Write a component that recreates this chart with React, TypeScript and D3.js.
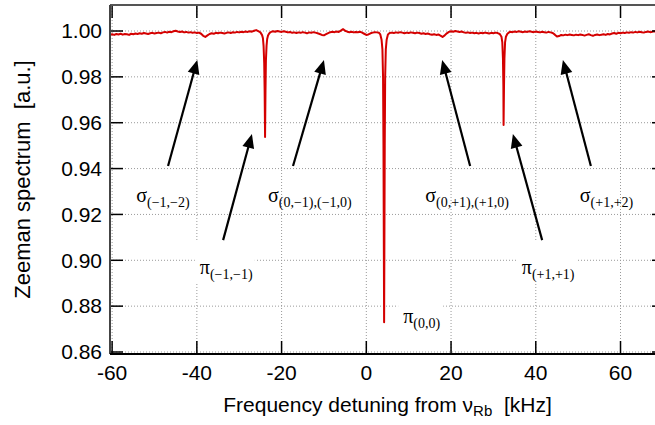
import React from 'react';
import * as d3 from 'd3';

const xTicks = [-60, -40, -20, 0, 20, 40, 60];
const yTicks = [0.86, 0.88, 0.9, 0.92, 0.94, 0.96, 0.98, 1.0];

// [frequency kHz, normalized signal]
const spectrum: [number, number][] = [
  [-60.5, 0.9984], [-60.0, 0.9986], [-59.5, 0.9983], [-59.0, 0.9987], [-58.5, 0.9985], [-58.0, 0.9988],
  [-57.5, 0.9984], [-57.0, 0.9987], [-56.5, 0.9986], [-56.0, 0.9983], [-55.5, 0.9988], [-55.0, 0.9986],
  [-54.5, 0.9989], [-54.0, 0.9987], [-53.5, 0.999], [-53.0, 0.9988], [-52.5, 0.9991], [-52.0, 0.9989],
  [-51.5, 0.9987], [-51.0, 0.999], [-50.5, 0.9992], [-50.0, 0.9989], [-49.5, 0.9991], [-49.0, 0.9993],
  [-48.5, 0.999], [-48.0, 0.9994], [-47.5, 0.9996], [-47.0, 0.9993], [-46.5, 0.9997], [-46.0, 0.9995],
  [-45.5, 0.9999], [-45.0, 1.0001], [-44.5, 0.9998], [-44.0, 0.9996], [-43.5, 0.9998], [-43.0, 0.9994],
  [-42.5, 0.9996], [-42.0, 0.9993], [-41.5, 0.9995], [-41.0, 0.9992], [-40.5, 0.9994], [-40.0, 0.9991],
  [-39.5, 0.9993], [-39.0, 0.9988], [-38.5, 0.9979], [-38.0, 0.9974], [-37.5, 0.9981], [-37.0, 0.9987],
  [-36.5, 0.999], [-36.0, 0.9988], [-35.5, 0.9992], [-35.0, 0.999], [-34.5, 0.9993], [-34.0, 0.9991],
  [-33.5, 0.9989], [-33.0, 0.9992], [-32.5, 0.9994], [-32.0, 0.9991], [-31.5, 0.9995], [-31.0, 0.9993],
  [-30.5, 0.9996], [-30.0, 0.9994], [-29.5, 0.9997], [-29.0, 0.9995], [-28.5, 0.9998], [-28.0, 0.9996],
  [-27.5, 0.9999], [-27.0, 0.9997], [-26.5, 1.0001], [-26.0, 1.0004], [-25.5, 0.9999], [-25.0, 0.9994],
  [-24.6, 0.9982], [-24.4, 0.9968], [-24.25, 0.9935], [-24.1, 0.986], [-24.0, 0.974], [-23.9, 0.9538],
  [-23.8, 0.974], [-23.7, 0.987], [-23.55, 0.9935], [-23.4, 0.9965], [-23.2, 0.998], [-22.9, 0.999],
  [-22.5, 0.9996], [-22.0, 0.9999], [-21.5, 0.9997], [-21.0, 1.0], [-20.5, 0.9998], [-20.0, 0.9996],
  [-19.5, 0.9999], [-19.0, 0.9997], [-18.5, 0.9994], [-18.0, 0.9996], [-17.5, 0.9992], [-17.0, 0.9994],
  [-16.5, 0.9991], [-16.0, 0.9994], [-15.5, 0.9992], [-15.0, 0.9995], [-14.5, 0.9993], [-14.0, 0.999],
  [-13.5, 0.9994], [-13.0, 0.9992], [-12.5, 0.9995], [-12.0, 0.9993], [-11.5, 0.999], [-11.0, 0.9987],
  [-10.5, 0.9983], [-10.0, 0.9981], [-9.5, 0.9986], [-9.0, 0.9991], [-8.5, 0.9995], [-8.0, 0.9997],
  [-7.5, 0.9995], [-7.0, 0.9998], [-6.5, 0.9996], [-6.0, 1.0002], [-5.5, 1.0008], [-5.0, 1.0001],
  [-4.5, 0.9997], [-4.0, 0.9995], [-3.5, 0.9997], [-3.0, 0.9994], [-2.5, 0.9996], [-2.0, 0.9995],
  [-1.5, 0.9997], [-1.0, 0.9993], [-0.5, 0.9988], [0.0, 0.9983], [0.5, 0.9985], [1.0, 0.999],
  [1.5, 0.9993], [2.0, 0.9995], [2.5, 0.9994], [3.0, 0.9992], [3.3, 0.9985], [3.6, 0.9962],
  [3.8, 0.992], [3.95, 0.98], [4.05, 0.95], [4.2, 0.873], [4.35, 0.95], [4.45, 0.98],
  [4.6, 0.992], [4.8, 0.9962], [5.1, 0.9985], [5.5, 0.9991], [6.0, 0.9993], [6.5, 0.9991],
  [7.0, 0.9994], [7.5, 0.9992], [8.0, 0.9995], [8.5, 0.9993], [9.0, 0.999], [9.5, 0.9993],
  [10.0, 0.9991], [10.5, 0.9994], [11.0, 0.9992], [11.5, 0.999], [12.0, 0.9993], [12.5, 0.9991],
  [13.0, 0.9988], [13.5, 0.999], [14.0, 0.9987], [14.5, 0.9989], [15.0, 0.9986], [15.5, 0.9984],
  [16.0, 0.9986], [16.5, 0.9983], [17.0, 0.9985], [17.5, 0.998], [18.0, 0.9974], [18.5, 0.9981],
  [19.0, 0.999], [19.5, 0.9996], [20.0, 0.9999], [20.5, 0.9997], [21.0, 1.0], [21.5, 0.9998],
  [22.0, 0.9996], [22.5, 0.9998], [23.0, 0.9994], [23.5, 0.9992], [24.0, 0.9994], [24.5, 0.9991],
  [25.0, 0.9993], [25.5, 0.999], [26.0, 0.9992], [26.5, 0.9989], [27.0, 0.9992], [27.5, 0.999],
  [28.0, 0.9993], [28.5, 0.9991], [29.0, 0.9989], [29.5, 0.9992], [30.0, 0.999], [30.5, 0.9993],
  [31.0, 0.9991], [31.5, 0.9987], [31.9, 0.9975], [32.1, 0.995], [32.25, 0.988], [32.35, 0.976],
  [32.4, 0.959], [32.5, 0.976], [32.6, 0.988], [32.75, 0.995], [32.95, 0.9975], [33.3, 0.9988],
  [33.7, 0.9994], [34.0, 0.9997], [34.5, 0.9995], [35.0, 0.9998], [35.5, 0.9996], [36.0, 0.9999],
  [36.5, 0.9997], [37.0, 0.9995], [37.5, 0.9998], [38.0, 0.9996], [38.5, 0.9999], [39.0, 0.9997],
  [39.5, 0.9995], [40.0, 0.9998], [40.5, 0.9996], [41.0, 0.9994], [41.5, 0.9997], [42.0, 0.9995],
  [42.5, 0.9993], [43.0, 0.9996], [43.5, 0.9994], [44.0, 0.9991], [44.5, 0.9984], [45.0, 0.9976],
  [45.5, 0.9978], [46.0, 0.9983], [46.5, 0.9981], [47.0, 0.9984], [47.5, 0.9982], [48.0, 0.9985],
  [48.5, 0.9983], [49.0, 0.9981], [49.5, 0.9984], [50.0, 0.9982], [50.5, 0.9985], [51.0, 0.9983],
  [51.5, 0.998], [52.0, 0.9983], [52.5, 0.9986], [53.0, 0.9982], [53.5, 0.9979], [54.0, 0.9983],
  [54.5, 0.9985], [55.0, 0.9982], [55.5, 0.9984], [56.0, 0.9986], [56.5, 0.9983], [57.0, 0.9987],
  [57.5, 0.9985], [58.0, 0.9989], [58.5, 0.9991], [59.0, 0.9988], [59.5, 0.9992], [60.0, 0.999],
  [60.5, 0.9993], [61.0, 0.9991], [61.5, 0.9994], [62.0, 0.9992], [62.5, 0.9995], [63.0, 0.9993],
  [63.5, 0.9996], [64.0, 0.9994], [64.5, 0.9997], [65.0, 0.9995], [65.5, 0.9993], [66.0, 0.9996],
  [66.5, 0.9998], [67.0, 0.9995], [67.5, 0.9997], [68.0, 0.9999], [68.5, 0.9996], [69.0, 0.9998],
  [69.5, 0.9996], [70.0, 0.9999], [70.5, 0.9997],
];

// annotation arrows: [start kHz, start value, tip kHz, tip value]
const arrows: [number, number, number, number][] = [
  [-46.8, 0.9411, -39.9, 0.9874],
  [-33.8, 0.9088, -27.0, 0.9551],
  [-17.3, 0.9411, -10.0, 0.9874],
  [24.5, 0.9411, 17.9, 0.9874],
  [41.5, 0.9088, 34.6, 0.9551],
  [53.0, 0.9411, 46.4, 0.9874],
];

// annotation labels: symbol, subscript, anchor kHz, baseline value, white box
const labelSymbols = ['σ', 'σ', 'σ', 'σ', 'π', 'π', 'π'];
const labelSubs = ['(−1,−2)', '(0,−1),(−1,0)', '(0,+1),(+1,0)', '(+1,+2)', '(−1,−1)', '(+1,+1)', '(0,0)'];
const labelF = [-54.3, -23.2, 13.9, 50.4, -39.3, 36.7, 8.7];
const labelV = [0.9254, 0.9254, 0.9254, 0.9254, 0.894, 0.894, 0.8727];
const labelBox = [false, false, false, false, true, true, true];

const X0 = 110, X1 = 665, Y0 = 354, Y1 = 5;

export default function App() {
  const x = d3.scaleLinear().domain([-60.5, 70.5]).range([X0, X1]);
  const y = d3.scaleLinear().domain([0.85913, 1.01134]).range([Y0, Y1]);
  const line = d3.line<[number, number]>().x(d => x(d[0])).y(d => y(d[1]));
  const sans = 'Liberation Sans, Arial, sans-serif';
  const serif = 'Liberation Serif, Times New Roman, serif';
  const grid = '#9a9a9a';

  return (
    <svg width={655} height={425} style={{ position: 'absolute', left: 0, top: 0, background: '#fff' }}>
      <defs>
        <clipPath id="plot">
          <rect x={X0} y={Y1} width={X1 - X0} height={Y0 - Y1} />
        </clipPath>
      </defs>
      <rect x={0} y={0} width={655} height={425} fill="#fff" />
      {/* grid */}
      {xTicks.map(t => (
        <line key={'gx' + t} x1={x(t)} x2={x(t)} y1={Y1} y2={Y0} stroke={grid} strokeWidth={1} strokeDasharray="1,2" />
      ))}
      {yTicks.map(t => (
        <line key={'gy' + t} x1={X0} x2={X1} y1={y(t)} y2={y(t)} stroke={grid} strokeWidth={1} strokeDasharray="1,2" />
      ))}
      {/* white boxes behind pi labels */}
      {labelF.map((f, i) => labelBox[i] ? (
        <rect key={'bx' + i} x={x(f) - 5} y={y(labelV[i]) - 34} width={labelSubs[i].length > 5 ? 60 : 45} height={43} fill="#fff" />
      ) : null)}
      {/* data */}
      <path d={line(spectrum) || ''} fill="none" stroke="#d40000" strokeWidth={2} strokeLinejoin="round" clipPath="url(#plot)" />
      {/* ticks */}
      {xTicks.map(t => (
        <g key={'tx' + t}>
          <line x1={x(t)} x2={x(t)} y1={Y0} y2={Y0 - 13} stroke="#000" strokeWidth={1.5} />
          <line x1={x(t)} x2={x(t)} y1={Y1} y2={Y1 + 13} stroke="#000" strokeWidth={1.5} />
          <text x={x(t)} y={380} textAnchor="middle" fontFamily={sans} fontSize={21} fill="#000">{t}</text>
        </g>
      ))}
      {yTicks.map(t => (
        <g key={'ty' + t}>
          <line x1={X0} x2={X0 + 13} y1={y(t)} y2={y(t)} stroke="#000" strokeWidth={1.5} />
          <line x1={X1} x2={X1 - 13} y1={y(t)} y2={y(t)} stroke="#000" strokeWidth={1.5} />
          <text x={102} y={y(t)} dy="0.35em" textAnchor="end" fontFamily={sans} fontSize={21} fill="#000">{t.toFixed(2)}</text>
        </g>
      ))}
      {/* frame */}
      <line x1={X0} x2={X1} y1={Y1} y2={Y1} stroke="#555" strokeWidth={2} />
      <line x1={X0} x2={X0} y1={Y1} y2={Y0} stroke="#444" strokeWidth={2} />
      <line x1={X1} x2={X1} y1={Y1} y2={Y0} stroke="#444" strokeWidth={2} />
      <line x1={X0} x2={X1} y1={Y0} y2={Y0} stroke="#000" strokeWidth={2} />
      {/* arrows */}
      {arrows.map((a, i) => {
        const sx = x(a[0]), sy = y(a[1]), tx = x(a[2]), ty = y(a[3]);
        const dx = tx - sx, dy = ty - sy, len = Math.hypot(dx, dy);
        const ux = dx / len, uy = dy / len;
        const bx = tx - ux * 14, by = ty - uy * 14;
        const nx = -uy, ny = ux;
        const pts = `${tx},${ty} ${bx + nx * 6},${by + ny * 6} ${bx - nx * 6},${by - ny * 6}`;
        return (
          <g key={'ar' + i}>
            <line x1={sx} y1={sy} x2={bx + ux * 2} y2={by + uy * 2} stroke="#000" strokeWidth={2.2} />
            <polygon points={pts} fill="#000" />
          </g>
        );
      })}
      {/* labels */}
      {labelF.map((f, i) => (
        <text key={'lb' + i} x={x(f)} y={y(labelV[i])} fontFamily={serif} fill="#000">
          <tspan fontSize={20}>{labelSymbols[i]}</tspan>
          <tspan fontSize={14} dy={5}>{labelSubs[i]}</tspan>
        </text>
      ))}
      {/* axis titles */}
      <text x={(X0 + X1) / 2} y={412} textAnchor="middle" fontFamily={sans} fontSize={21} fill="#000">
        Frequency detuning from ν<tspan fontSize={15} dy={4}>Rb</tspan><tspan dy={-4}>{'\u00a0 [kHz]'}</tspan>
      </text>
      <text transform={`translate(30, ${(Y0 + Y1) / 2}) rotate(-90)`} textAnchor="middle" fontFamily={sans} fontSize={22} fill="#000">
        {'Zeeman spectrum\u00a0 [a.u.]'}
      </text>
    </svg>
  );
}
